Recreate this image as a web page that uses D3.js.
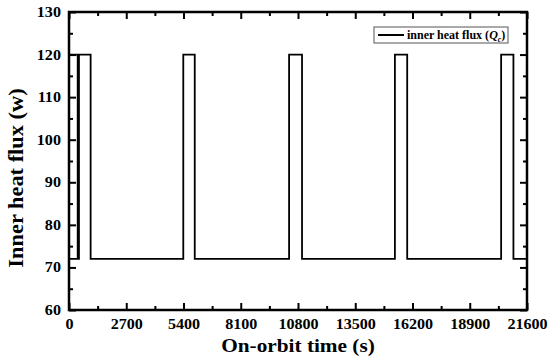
<!DOCTYPE html>
<html>
<head>
<meta charset="utf-8">
<script src="https://cdn.jsdelivr.net/npm/d3@7"></script>
<style>
  body { margin: 0; background: #fff; }
  text { font-family: "Liberation Serif", "Times New Roman", serif; font-weight: bold; }
</style>
</head>
<body>
<div id="chart"></div>
<script>
// chart size
let w = 550;
let h = 361;
let margin = {top: 12, right: 23, bottom: 51, left: 69};

// on-orbit time (s) and inner heat flux (w)
let timeValues = [410, 0, 0, 410, 410, 470, 470, 1020, 1020,
                  5390, 5390, 5930, 5930,
                  10380, 10380, 10990, 10990,
                  15370, 15370, 15950, 15950,
                  20380, 20380, 20960, 20960, 21600];
let fluxValues = [72, 72, 120, 120, 72, 72, 120, 120, 72,
                  72, 120, 120, 72,
                  72, 120, 120, 72,
                  72, 120, 120, 72,
                  72, 120, 120, 72, 72];

let xTicks = [0, 2700, 5400, 8100, 10800, 13500, 16200, 18900, 21600];
let yTicks = [60, 70, 80, 90, 100, 110, 120, 130];
let legendLabel = "inner heat flux (";

let iw = w - margin.left - margin.right;
let ih = h - margin.top - margin.bottom;

var svg = d3.select("#chart")
            .append("svg")
            .attr("width", w)
            .attr("height", h);

var g = svg.append("g")
           .attr("transform", "translate(" + margin.left + "," + margin.top + ")");

var x = d3.scaleLinear().domain([0, 21600]).range([0, iw]);
var y = d3.scaleLinear().domain([60, 130]).range([ih, 0]);

var points = timeValues.map(function(t, i) { return [t, fluxValues[i]]; });

// minor ticks halfway between the majors
var xMinor = d3.range(1350, 21600, 2700);
var yMinor = d3.range(65, 130, 10);

// the original figure's lettering is a bit wide, so stretch it sideways
function styleAxis(sel) {
    sel.select(".domain").remove();
    sel.selectAll("line").attr("stroke", "#000").attr("stroke-width", 2);
    sel.selectAll("text")
       .attr("fill", "#000")
       .attr("transform", "scale(1.15,1)")
       .style("font-size", "14px");
}

// bottom axis, ticks pointing inward
g.append("g")
 .attr("transform", "translate(0," + ih + ")")
 .call(d3.axisBottom(x).tickValues(xTicks).tickSize(-7).tickPadding(9).tickFormat(d3.format("d")))
 .call(styleAxis);
g.append("g")
 .attr("transform", "translate(0," + ih + ")")
 .call(d3.axisBottom(x).tickValues(xMinor).tickSize(-4).tickFormat(""))
 .call(styleAxis);

// top axis mirror
g.append("g")
 .call(d3.axisTop(x).tickValues(xTicks).tickSize(-7).tickFormat(""))
 .call(styleAxis);
g.append("g")
 .call(d3.axisTop(x).tickValues(xMinor).tickSize(-4).tickFormat(""))
 .call(styleAxis);

// left axis
g.append("g")
 .call(d3.axisLeft(y).tickValues(yTicks).tickSize(-7).tickPadding(7))
 .call(styleAxis);
g.append("g")
 .call(d3.axisLeft(y).tickValues(yMinor).tickSize(-4).tickFormat(""))
 .call(styleAxis);

// right axis mirror
g.append("g")
 .attr("transform", "translate(" + iw + ",0)")
 .call(d3.axisRight(y).tickValues(yTicks).tickSize(-7).tickFormat(""))
 .call(styleAxis);
g.append("g")
 .attr("transform", "translate(" + iw + ",0)")
 .call(d3.axisRight(y).tickValues(yMinor).tickSize(-4).tickFormat(""))
 .call(styleAxis);

// data line
var line = d3.line()
             .x(function(d) { return x(d[0]); })
             .y(function(d) { return y(d[1]); });

g.append("path")
 .datum(points)
 .attr("d", line)
 .attr("fill", "none")
 .attr("stroke", "#000")
 .attr("stroke-width", 1.8);

// frame
g.append("rect")
 .attr("width", iw)
 .attr("height", ih)
 .attr("fill", "none")
 .attr("stroke", "#000")
 .attr("stroke-width", 2.5);

// axis titles
svg.append("text")
   .attr("text-anchor", "middle")
   .attr("transform", "translate(" + (margin.left + iw / 2) + ",352) scale(1.12,1)")
   .style("font-size", "19px")
   .text("On-orbit time (s)");

svg.append("text")
   .attr("text-anchor", "middle")
   .attr("transform", "translate(23," + (margin.top + ih / 2 + 17) + ") rotate(-90) scale(1.12,1)")
   .style("font-size", "20px")
   .text("Inner heat flux (w)");

// legend
var lg = svg.append("g").attr("transform", "translate(374,27)");
lg.append("rect")
  .attr("width", 134)
  .attr("height", 16)
  .attr("fill", "#fff")
  .attr("stroke", "#555")
  .attr("stroke-width", 1);
lg.append("line")
  .attr("x1", 4).attr("x2", 30)
  .attr("y1", 8).attr("y2", 8)
  .attr("stroke", "#000")
  .attr("stroke-width", 2);
var lt = lg.append("text")
  .attr("x", 33)
  .attr("y", 12)
  .style("font-size", "12px");
lt.append("tspan").text(legendLabel);
lt.append("tspan").style("font-style", "italic").text("Q");
lt.append("tspan").attr("dy", 3).style("font-size", "8px").style("font-style", "italic").text("c");
lt.append("tspan").attr("dy", -3).text(")");
</script>
</body>
</html>
